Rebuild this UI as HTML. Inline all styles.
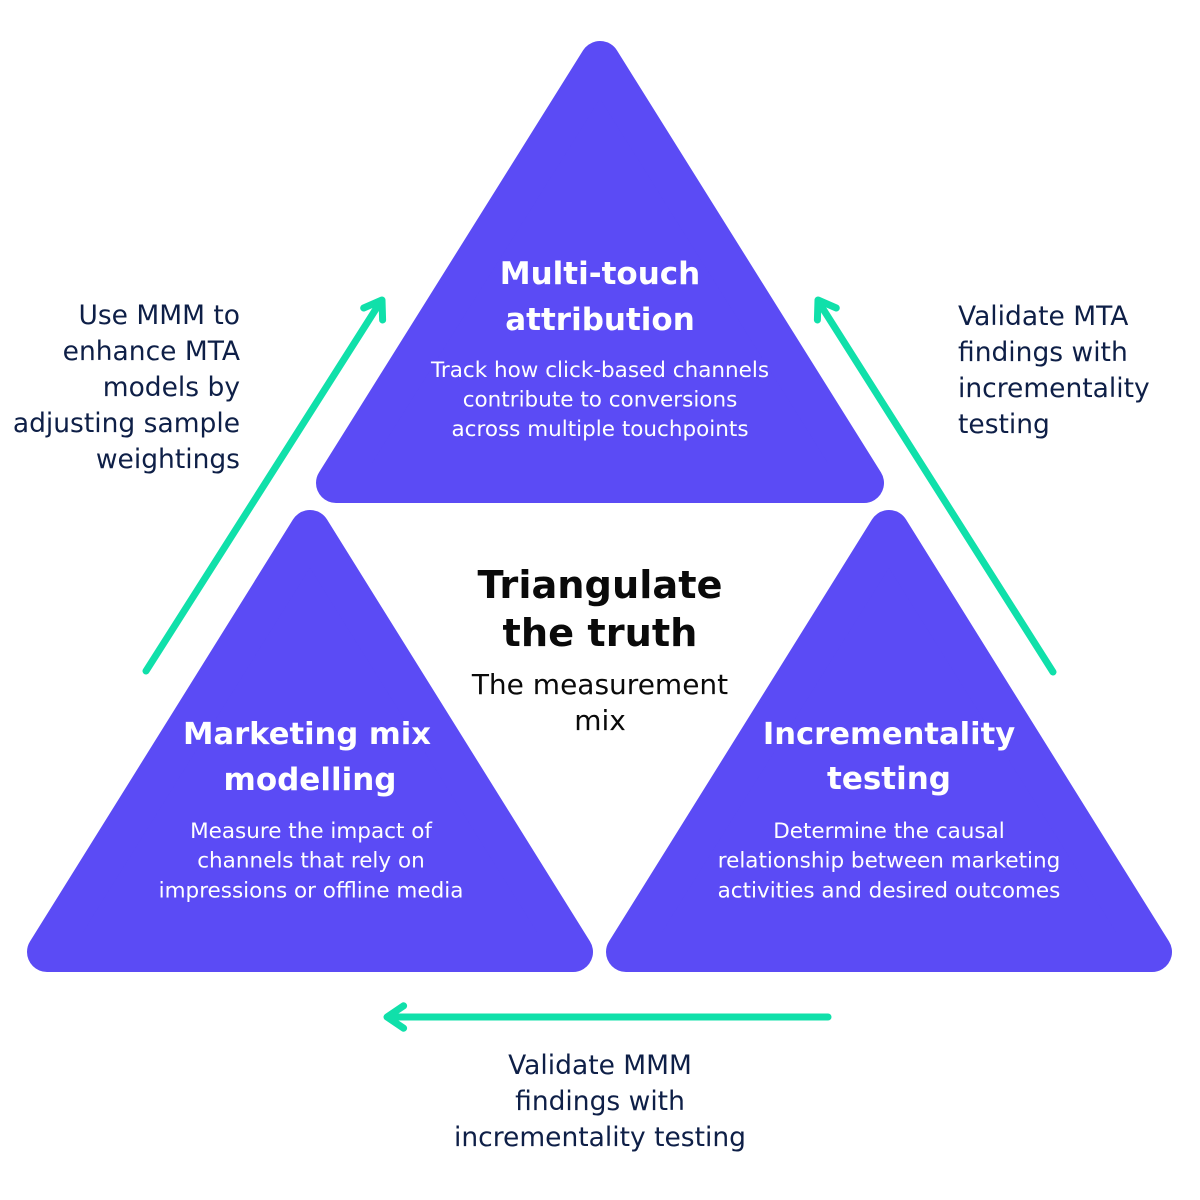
<!DOCTYPE html>
<html>
<head>
<meta charset="utf-8">
<style>
html,body{margin:0;padding:0;background:#fff;}
svg{display:block;}
.t{font-family:"DejaVu Sans","Liberation Sans",sans-serif;}
</style>
</head>
<body>
<svg width="1200" height="1200" viewBox="0 0 1200 1200" xmlns="http://www.w3.org/2000/svg">
  <rect width="1200" height="1200" fill="#ffffff"/>
  <!-- Triangles -->
  <g fill="#5b4bf5" stroke="#5b4bf5" stroke-width="40" stroke-linejoin="round">
    <polygon points="600,61 864,483 336,483"/>
    <polygon points="310,530 573,952 47,952"/>
    <polygon points="889,530 1152,952 626,952"/>
  </g>
  <!-- Arrows -->
  <g fill="none" stroke="#10e0aa" stroke-width="7" stroke-linecap="round" stroke-linejoin="round">
    <line x1="146" y1="671" x2="381" y2="301"/>
    <polyline points="363.7,308 382,300 382.6,320"/>
    <line x1="1053" y1="672" x2="818" y2="301"/>
    <polyline points="836.3,308 818,300 817.4,320"/>
    <line x1="828" y1="1017" x2="388" y2="1017"/>
    <polyline points="403.6,1005.8 387,1017 403.6,1028.2"/>
  </g>
  <!-- Top triangle text -->
  <g class="t" fill="#ffffff" text-anchor="middle">
    <text x="600" y="284" font-size="31" font-weight="bold">Multi-touch</text>
    <text x="600" y="330" font-size="31" font-weight="bold">attribution</text>
    <text x="600" y="377" font-size="21.5">Track how click-based channels</text>
    <text x="600" y="406.5" font-size="21.5">contribute to conversions</text>
    <text x="600" y="436" font-size="21.5">across multiple touchpoints</text>
  </g>
  <!-- MMM triangle text -->
  <g class="t" fill="#ffffff" text-anchor="middle">
    <text x="307" y="744" font-size="30.6" font-weight="bold">Marketing mix</text>
    <text x="310" y="790" font-size="31" font-weight="bold">modelling</text>
    <text x="311" y="838" font-size="21.5">Measure the impact of</text>
    <text x="311" y="867.5" font-size="21.5">channels that rely on</text>
    <text x="311" y="897.5" font-size="21.5">impressions or offline media</text>
  </g>
  <!-- Incrementality triangle text -->
  <g class="t" fill="#ffffff" text-anchor="middle">
    <text x="889" y="744" font-size="30.6" font-weight="bold">Incrementality</text>
    <text x="889" y="789" font-size="31" font-weight="bold">testing</text>
    <text x="889" y="838" font-size="21.5">Determine the causal</text>
    <text x="889" y="867.5" font-size="21.5">relationship between marketing</text>
    <text x="889" y="897.5" font-size="21.5">activities and desired outcomes</text>
  </g>
  <!-- Center text -->
  <g class="t" fill="#0a0a0a" text-anchor="middle">
    <text x="600" y="598" font-size="38.3" font-weight="bold">Triangulate</text>
    <text x="600" y="646" font-size="38.3" font-weight="bold">the truth</text>
    <text x="600" y="694" font-size="28">The measurement</text>
    <text x="600" y="730" font-size="28">mix</text>
  </g>
  <!-- Left side text -->
  <g class="t" fill="#0e1f47" text-anchor="end" font-size="26.5">
    <text x="240" y="324">Use MMM to</text>
    <text x="240" y="360">enhance MTA</text>
    <text x="240" y="396">models by</text>
    <text x="240" y="432">adjusting sample</text>
    <text x="240" y="468">weightings</text>
  </g>
  <!-- Right side text -->
  <g class="t" fill="#0e1f47" text-anchor="start" font-size="26.5">
    <text x="958" y="325">Validate MTA</text>
    <text x="958" y="361">findings with</text>
    <text x="958" y="397">incrementality</text>
    <text x="958" y="433">testing</text>
  </g>
  <!-- Bottom text -->
  <g class="t" fill="#0e1f47" text-anchor="middle" font-size="26.5">
    <text x="600" y="1074">Validate MMM</text>
    <text x="600" y="1110">findings with</text>
    <text x="600" y="1146">incrementality testing</text>
  </g>
</svg>
</body>
</html>
